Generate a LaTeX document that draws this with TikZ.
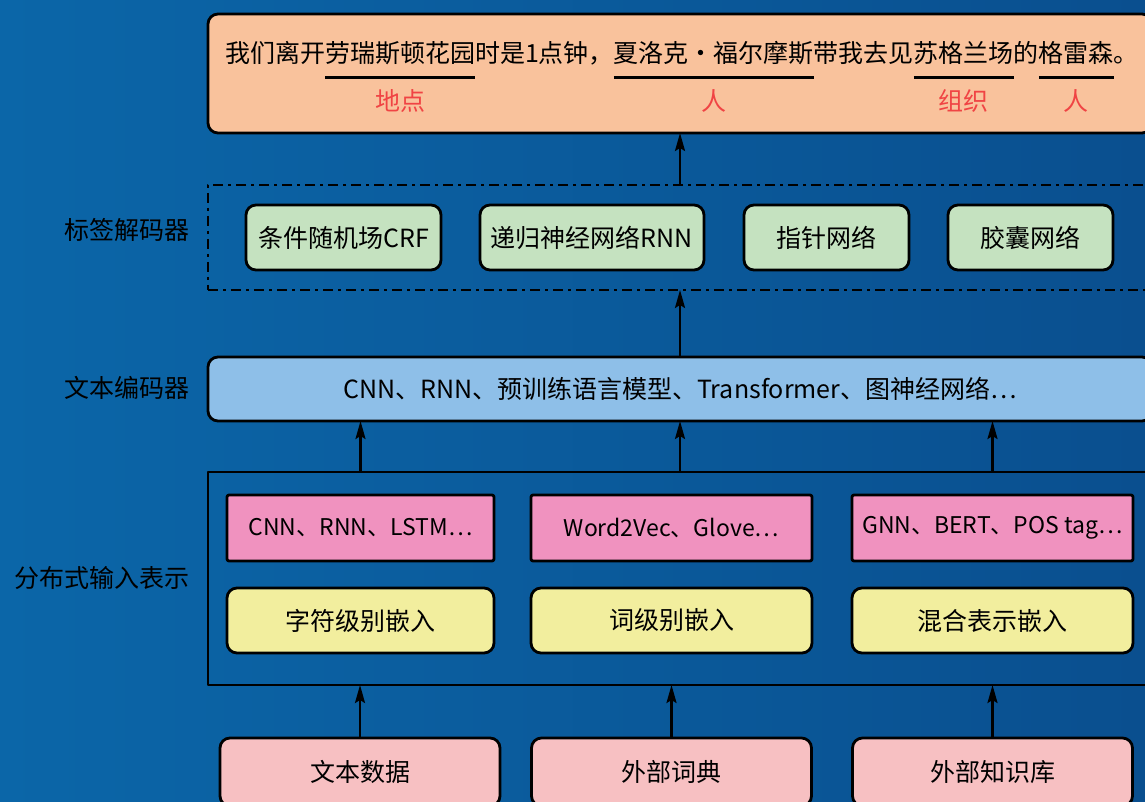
\documentclass[tikz,border=0pt]{standalone}
\usepackage{fontspec}
\setmainfont{Noto Sans CJK SC}
\usetikzlibrary{arrows.meta,positioning,calc}

\definecolor{bgleft}{HTML}{0B66A8}
\definecolor{bgmid}{HTML}{1482C2}
\definecolor{bgright}{HTML}{0A4F8F}
\definecolor{outfill}{HTML}{F9C29C}
\definecolor{decfill}{HTML}{C5E2C0}
\definecolor{encfill}{HTML}{8EBFE8}
\definecolor{modfill}{HTML}{F092BF}
\definecolor{embfill}{HTML}{F2EE9E}
\definecolor{srcfill}{HTML}{F7C0C2}
\definecolor{tagred}{HTML}{F04444}

\tikzset{
  txt/.style={font=\fontsize{25pt}{30pt}\selectfont},
  box/.style={txt, draw=black, line width=2.8pt, outer sep=0pt, inner sep=0pt, align=center},
  sentbox/.style={box, fill=outfill, rounded corners=10pt, minimum width=944pt, minimum height=119pt},
  seg/.style={txt, inner sep=0pt, outer sep=0pt, anchor=base west},
  uline/.style={line width=3pt},
  tag/.style={txt, text=tagred, inner sep=0pt},
  dashbox/.style={draw=black, line width=2.4pt, dash pattern=on 10pt off 5pt on 3pt off 5pt, minimum width=944pt, minimum height=105pt, outer sep=0pt},
  decnode/.style={box, fill=decfill, rounded corners=10pt, minimum height=65pt},
  encbox/.style={box, fill=encfill, rounded corners=10pt, minimum width=944pt, minimum height=64pt},
  inbox/.style={draw=black, line width=2.8pt, minimum width=944pt, minimum height=213pt, outer sep=0pt},
  model/.style={box, fill=modfill, rounded corners=2pt, minimum height=66pt, font=\fontsize{23pt}{28pt}\selectfont},
  emb/.style={box, fill=embfill, rounded corners=10pt, minimum height=65pt},
  src/.style={box, fill=srcfill, rounded corners=10pt, minimum width=280pt, minimum height=68pt},
  side/.style={txt, anchor=east, inner sep=0pt},
  arr/.style={-{Stealth[length=18pt,width=10pt,inset=3pt]}, line width=2.2pt}
}

\begin{document}
\begin{tikzpicture}[x=1pt, y=-1pt, line join=round]
\clip (0,0) rectangle (1145,802);
\shade[left color=bgleft, middle color=bgmid, right color=bgright] (0,0) rectangle (1145,802);

% output sentence with entities
\node[sentbox] (out) at (680,73.5) {};
\node[seg] (s1) at (225,63) {我们离开};
\node[seg] (s2) at (s1.base east) {劳瑞斯顿花园};
\node[seg] (s3) at (s2.base east) {时是1点钟，};
\node[seg] (s4) at (s3.base east) {夏洛克·福尔摩斯};
\node[seg] (s5) at (s4.base east) {带我去见};
\node[seg] (s6) at (s5.base east) {苏格兰场};
\node[seg] (s7) at (s6.base east) {的};
\node[seg] (s8) at (s7.base east) {格雷森};
\node[seg] (s9) at (s8.base east) {。};
\foreach \s/\t in {s2/地点, s4/人, s6/组织, s8/人}
  \draw[uline] ([yshift=-15pt]\s.base west) -- node[tag, below=10pt] {\t} ([yshift=-15pt]\s.base east);

% label decoder
\node[dashbox] (dec) at (680,237.5) {};
\node[decnode, minimum width=195pt] (crf) at (343.5,237.5) {条件随机场CRF};
\node[decnode, minimum width=224pt, right=39pt of crf] (rnn) {递归神经网络RNN};
\node[decnode, minimum width=165pt, right=40pt of rnn] (ptr) {指针网络};
\node[decnode, minimum width=165pt, right=39pt of ptr] (caps) {胶囊网络};

% text encoder
\node[encbox] (enc) at (680,389) {CNN、RNN、预训练语言模型、Transformer、图神经网络…};

% distributed input
\node[inbox] (inp) at (680,578.5) {};
\node[model, minimum width=267pt] (m1) at (360.5,528) {CNN、RNN、LSTM…};
\node[model, minimum width=281pt] (m2) at (671.5,528) {Word2Vec、Glove…};
\node[model, minimum width=281pt] (m3) at (992.5,528) {GNN、BERT、POS tag…};
\node[emb, minimum width=267pt, below=27pt of m1] (e1) {字符级别嵌入};
\node[emb, minimum width=281pt, below=27pt of m2] (e2) {词级别嵌入};
\node[emb, minimum width=281pt, below=27pt of m3] (e3) {混合表示嵌入};

% sources
\node[src] (d1) at (360,772) {文本数据};
\node[src] (d2) at (671.5,772) {外部词典};
\node[src] (d3) at (992.5,772) {外部知识库};

% layer names
\node[side] (ldec) at (190,230) {标签解码器};
\node[side] (lenc) at (190,388) {文本编码器};
\node[side] (linp) at (190,578) {分布式输入表示};

% arrows
\foreach \n in {d1,d2,d3}
  \draw[arr] (\n.north) -- (\n.north |- inp.south);
\foreach \n in {m1,m3}
  \draw[arr] (\n.center |- inp.north) -- (\n.center |- enc.south);
\draw[arr] (inp.north) -- (enc.south);
\draw[arr] (enc.north) -- (dec.south);
\draw[arr] (dec.north) -- (out.south);
\end{tikzpicture}
\end{document}
